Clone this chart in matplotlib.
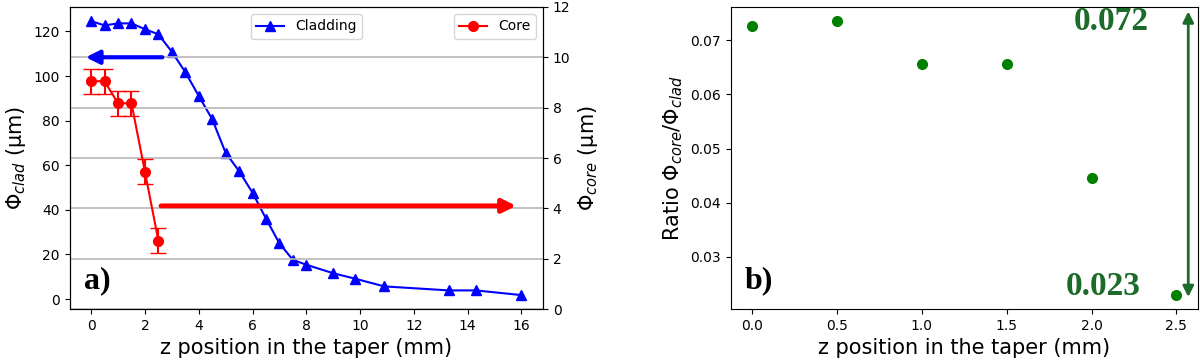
import matplotlib
matplotlib.use("Agg")
import matplotlib.pyplot as plt

# cladding diameter along the taper (left axis, um)
z_clad = [0, 0.5, 1, 1.5, 2, 2.5, 3, 3.5, 4, 4.5, 5, 5.5, 6, 6.5, 7, 7.5, 8, 9, 9.8, 10.9, 13.3, 14.3, 16]
d_clad = [124.6, 122.7, 123.6, 123.6, 121.0, 118.7, 110.9, 101.8, 91.1, 80.7, 65.6, 57.4, 47.7,
          36.1, 25.0, 17.6, 15.4, 11.6, 9.2, 5.7, 3.9, 3.9, 1.8]

# core diameter (right axis, um) with error bars
z_core = [0, 0.5, 1, 1.5, 2, 2.5]
d_core = [9.05, 9.05, 8.17, 8.17, 5.46, 2.72]
d_core_err = [0.49, 0.49, 0.5, 0.5, 0.49, 0.49]

# ratio core / clad
z_ratio = [0, 0.5, 1, 1.5, 2, 2.5]
ratio = [0.0726, 0.0736, 0.0656, 0.0656, 0.0446, 0.0229]
ratio_labels = ["0.072", "0.023"]


def main():
    plt.rcParams["font.family"] = ["DejaVu Sans"]
    fig = plt.figure(figsize=(12, 3.62), dpi=100)

    ax = fig.add_axes([0.058, 0.146, 0.3945, 0.835])
    ax.plot(z_clad, d_clad, "-^", color="blue", lw=1.5, ms=6.5, label="Cladding")
    ax.set_ylim(-4.5, 131)
    ax.set_xlim(-0.8, 16.8)
    ax.set_xticks(range(0, 17, 2))
    ax.set_yticks(range(0, 121, 20))
    ax.set_ylabel(r"$\Phi_{clad}$ (μm)", fontsize=15)
    ax.set_xlabel("z position in the taper (mm)", fontsize=15)
    ax.tick_params(labelsize=10)
    ax.legend(loc="upper center", fontsize=10)
    ax.text(0.03, 0.07, "a)", transform=ax.transAxes, fontsize=23, fontweight="bold",
            family="Liberation Serif")

    ax2 = ax.twinx()
    ax2.set_ylim(0, 12)
    ax2.grid(axis="y", color="#b8b8b8", lw=1.2)
    ax2.errorbar(z_core, d_core, yerr=d_core_err, fmt="none", ecolor="red", elinewidth=1.5, capsize=6)
    ax2.plot(z_core, d_core, "-o", color="red", lw=1.5, ms=7, label="Core")
    ax2.set_ylabel(r"$\Phi_{core}$ (μm)", fontsize=15)
    ax2.tick_params(labelsize=10)
    ax2.legend(loc="upper right", fontsize=10)
    ax2.annotate("", xy=(-0.2, 10), xytext=(2.65, 10),
                 arrowprops=dict(arrowstyle="-|>", color="blue", lw=3, mutation_scale=20, shrinkA=0, shrinkB=0))
    ax2.annotate("", xy=(15.8, 4.1), xytext=(2.6, 4.1),
                 arrowprops=dict(arrowstyle="-|>", color="red", lw=3.5, mutation_scale=20, shrinkA=0, shrinkB=0))

    bx = fig.add_axes([0.609, 0.146, 0.389, 0.835])
    bx.plot(z_ratio, ratio, "o", color="green", ms=7)
    bx.set_ylabel(r"Ratio $\Phi_{core}/\Phi_{clad}$", fontsize=15)
    bx.set_xlabel("z position in the taper (mm)", fontsize=15)
    bx.set_yticks([0.03, 0.04, 0.05, 0.06, 0.07])
    bx.tick_params(labelsize=10)
    bx.text(0.03, 0.07, "b)", transform=bx.transAxes, fontsize=23, fontweight="bold",
            family="Liberation Serif")
    dark_green = "#1d6b2a"
    bx.text(2.335, 0.0734, ratio_labels[0], ha="right", va="center", fontsize=24, fontweight="bold",
            color=dark_green, family="Liberation Serif")
    bx.text(2.29, 0.0246, ratio_labels[1], ha="right", va="center", fontsize=24, fontweight="bold",
            color=dark_green, family="Liberation Serif")
    bx.annotate("", xy=(2.57, 0.0753), xytext=(2.57, 0.0226),
                arrowprops=dict(arrowstyle="<|-|>", color=dark_green, lw=2, mutation_scale=16,
                                shrinkA=0, shrinkB=0))

    fig.savefig("out.png", dpi=100)


if __name__ == "__main__":
    main()
